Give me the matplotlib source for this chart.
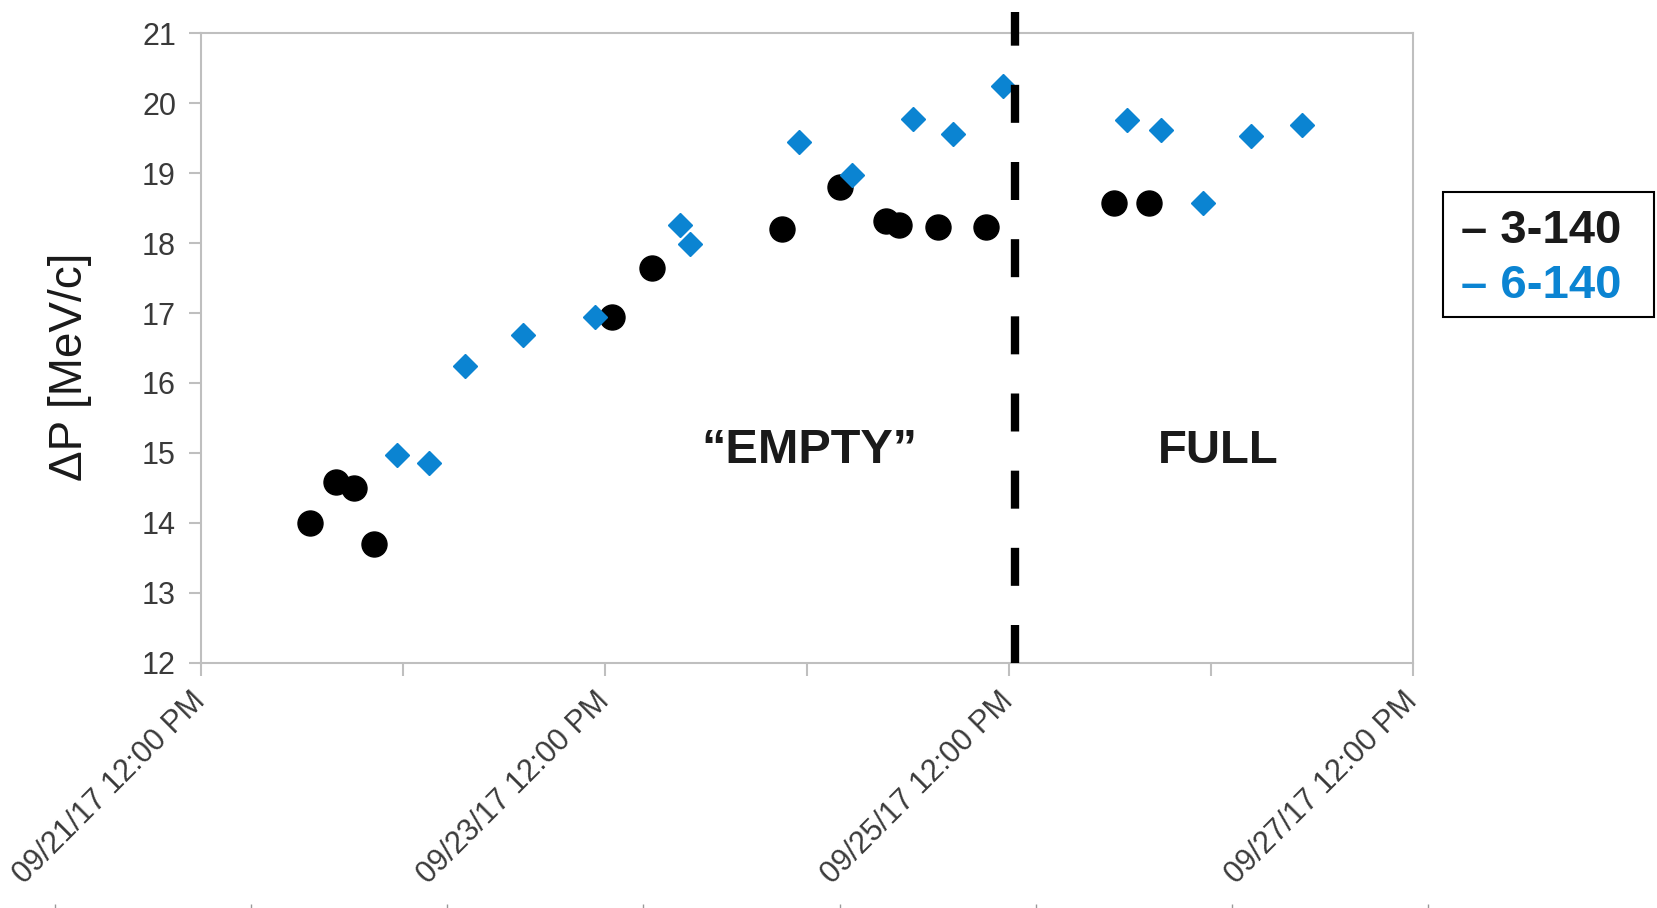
import numpy as np
import pandas as pd
import matplotlib
matplotlib.use("Agg")
import matplotlib.pyplot as plt
import matplotlib.dates as mdates
from matplotlib.patches import Rectangle

plt.rcParams['font.family'] = ['Liberation Sans', 'DejaVu Sans']

# beam 3-140 (black) and 6-140 (blue) momentum spread vs time
t_3140 = ['2017-09-22 00:55', '2017-09-22 04:04', '2017-09-22 06:11', '2017-09-22 08:34',
          '2017-09-23 12:50', '2017-09-23 17:35', '2017-09-24 09:03', '2017-09-24 15:58',
          '2017-09-24 21:22', '2017-09-24 22:59', '2017-09-25 03:32', '2017-09-25 09:17',
          '2017-09-26 00:29', '2017-09-26 04:38']
dp_3140 = [14.0, 14.59, 14.50, 13.70, 16.94, 17.65, 18.20, 18.80,
           18.32, 18.26, 18.23, 18.23, 18.57, 18.57]

t_6140 = ['2017-09-22 11:20', '2017-09-22 15:06', '2017-09-22 19:22', '2017-09-23 02:17',
          '2017-09-23 10:49', '2017-09-23 20:53', '2017-09-23 22:08', '2017-09-24 11:04',
          '2017-09-24 17:21', '2017-09-25 00:37', '2017-09-25 05:18', '2017-09-25 11:20',
          '2017-09-26 01:59', '2017-09-26 06:00', '2017-09-26 11:02', '2017-09-26 16:42',
          '2017-09-26 22:51']
dp_6140 = [14.97, 14.85, 16.24, 16.68, 16.94, 18.26, 17.98, 19.44,
           18.97, 19.77, 19.56, 20.24, 19.76, 19.62, 18.57, 19.53, 19.69]

t_fill = '2017-09-25 12:40'          # target filled
label_empty = ('2017-09-24 12:17', 15.03)
label_full = ('2017-09-26 12:50', 15.03)

major_days = ['2017-09-21 12:00', '2017-09-23 12:00', '2017-09-25 12:00', '2017-09-27 12:00']
minor_days = ['2017-09-22 12:00', '2017-09-24 12:00', '2017-09-26 12:00']
yticks = list(range(12, 22))

blue = '#0B84D2'
grey = '#BFBFBF'

fig = plt.figure(figsize=(16.57, 9.08), dpi=100)
ax = fig.add_axes([201/1657, 1-662.7/908, 1212/1657, 629.4/908])

ax.plot(pd.to_datetime(t_3140), dp_3140, 'o', color='black', markersize=18, zorder=3)
ax.plot(pd.to_datetime(t_6140), dp_6140, 'D', color=blue, markersize=12, zorder=3)

ft = pd.to_datetime(t_fill)
ax.plot([ft, ft], [12.0, 21.3], color='black', lw=6, dashes=(4.56, 4.7),
        solid_capstyle='butt', dash_capstyle='butt', clip_on=False, zorder=4)

ax.text(pd.to_datetime(label_empty[0]), label_empty[1], '\u201cEMPTY\u201d',
        fontsize=35, fontweight='bold', color='#1a1a1a', ha='center', va='center')
ax.text(pd.to_datetime(label_full[0]), label_full[1], 'FULL',
        fontsize=34, fontweight='bold', color='#1a1a1a', ha='center', va='center')

ax.set_xlim(pd.to_datetime(major_days[0]), pd.to_datetime(major_days[-1]))
ax.set_ylim(12, 21)
ax.set_yticks(yticks)
ax.set_xticks(pd.to_datetime(major_days))
ax.set_xticks(pd.to_datetime(minor_days), minor=True)
ax.xaxis.set_major_formatter(mdates.DateFormatter('%m/%d/%y %I:%M %p'))
for lab in ax.get_xticklabels():
    lab.set_rotation(45)
    lab.set_ha('right')
    lab.set_va('center')
    lab.set_rotation_mode('anchor')

ax.tick_params(axis='both', which='both', direction='out', length=9, width=1.5,
               color=grey, labelsize=22, labelcolor='#3a3a3a')
ax.tick_params(axis='y', pad=9)
ax.tick_params(axis='x', pad=15.5)
for s in ax.spines.values():
    s.set_color(grey)
    s.set_linewidth(1.5)

ax.set_ylabel('\u0394P [MeV/c]', fontsize=33, color='#1a1a1a')
ax.yaxis.set_label_coords(-0.090, 0.47)

# legend box drawn by hand
fig.patches.append(Rectangle((1443/1657, 1-316.5/908), 211/1657, 124.5/908,
                             transform=fig.transFigure, fill=False,
                             edgecolor='black', linewidth=1.5))
fig.text(1461/1657, 1-243/908, '\u2013 3-140', fontsize=34, fontweight='bold',
         color='#1a1a1a', ha='left', va='baseline')
fig.text(1461/1657, 1-298/908, '\u2013 6-140', fontsize=34, fontweight='bold',
         color=blue, ha='left', va='baseline')

# ruler ticks along the bottom edge
axb = fig.add_axes([55/1657, 0, 1373/1657, 0.001])
axb.set_xlim(0, 7)
axb.set_xticks(np.arange(8))
axb.set_yticks([])
axb.tick_params(axis='x', direction='in', length=3, width=1, color='#999999',
                labelbottom=False)
for s in axb.spines.values():
    s.set_visible(False)
axb.patch.set_alpha(0)

fig.savefig('out.png', dpi=100)
